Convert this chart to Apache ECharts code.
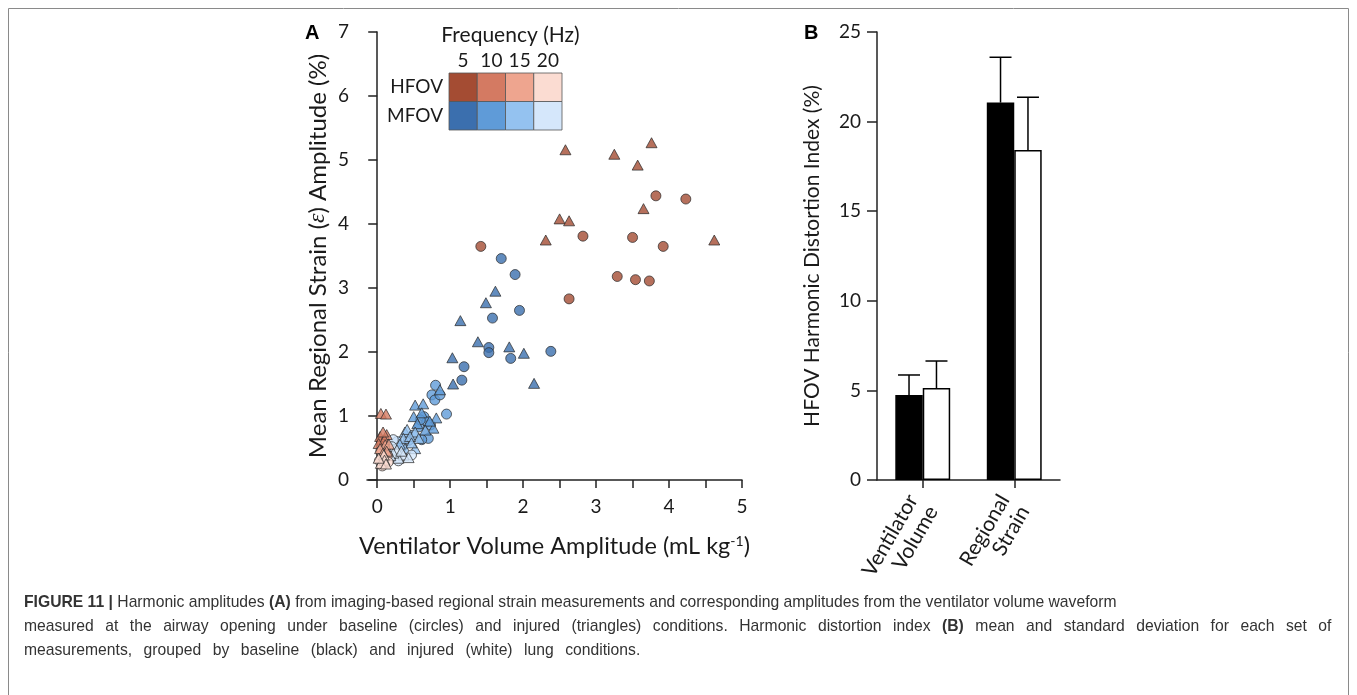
<!DOCTYPE html>
<html lang="en">
<head>
<meta charset="UTF-8">
<title>Figure 11 - Harmonic amplitudes</title>
<script src="https://cdn.jsdelivr.net/npm/echarts@6/dist/echarts.min.js"></script>
<style>
  html, body { margin: 0; padding: 0; background: #fff; }
  #chart { width: 1357px; height: 695px; }
</style>
</head>
<body>
<div id="chart"></div>
<script>
// Panel A points: [ventilator volume amplitude (mL/kg), mean regional strain amplitude (%)]
// circles = baseline, triangles = injured
const hfov5Circles = [[3.82,4.44],[4.23,4.39],[2.82,3.81],[3.50,3.79],[3.92,3.65],[1.42,3.65],[3.29,3.18],[3.54,3.13],[3.73,3.11],[2.63,2.83]];
const hfov5Triangles = [[2.58,5.16],[3.76,5.27],[3.25,5.09],[3.57,4.92],[3.65,4.24],[2.50,4.08],[2.63,4.05],[2.31,3.75],[4.62,3.75]];
const hfov10Circles = [[0.06,0.60],[0.10,0.52]];
const hfov10Triangles = [[0.05,1.04],[0.12,1.03],[0.04,0.68],[0.13,0.71],[0.10,0.63],[0.02,0.57],[0.08,0.75]];
const hfov15Circles = [[0.05,0.45],[0.14,0.38]];
const hfov15Triangles = [[0.11,0.55],[0.16,0.56],[0.04,0.49],[0.13,0.45],[0.08,0.42]];
const hfov20Circles = [[0.03,0.30],[0.07,0.22],[0.15,0.28]];
const hfov20Triangles = [[0.09,0.39],[0.10,0.31],[0.05,0.26],[0.12,0.25],[0.02,0.34]];

const mfov5Circles = [[1.70,3.46],[1.89,3.21],[1.95,2.65],[1.58,2.53],[1.53,2.07],[1.53,1.99],[1.83,1.90],[2.38,2.01],[1.19,1.77],[1.16,1.56]];
const mfov5Triangles = [[1.62,2.95],[1.49,2.77],[1.14,2.49],[1.38,2.16],[1.81,2.08],[2.01,1.98],[1.03,1.91],[1.04,1.50],[2.15,1.51]];
const mfov10Circles = [[0.80,1.48],[0.75,1.33],[0.79,1.25],[0.86,1.33],[0.64,0.99],[0.68,0.91],[0.95,1.03],[0.57,0.83],[0.73,0.86],[0.70,0.65],[0.61,0.63],[0.59,0.94]];
const mfov10Triangles = [[0.52,1.17],[0.63,1.19],[0.50,0.99],[0.81,0.97],[0.77,0.81],[0.86,1.41],[0.61,1.05],[0.72,0.92],[0.55,0.88],[0.66,0.78]];
const mfov15Circles = [[0.43,0.62],[0.49,0.70],[0.34,0.52],[0.27,0.60]];
const mfov15Triangles = [[0.38,0.75],[0.41,0.79],[0.52,0.75],[0.57,0.65],[0.36,0.65],[0.45,0.68],[0.52,0.49],[0.38,0.49],[0.47,0.58],[0.31,0.56]];
const mfov20Circles = [[0.47,0.39],[0.22,0.63],[0.29,0.30],[0.16,0.45],[0.12,0.36],[0.20,0.52]];
const mfov20Triangles = [[0.27,0.47],[0.36,0.39],[0.43,0.35],[0.29,0.34],[0.22,0.42],[0.33,0.45],[0.18,0.38]];

const xTicksA = [0, 0.5, 1, 1.5, 2, 2.5, 3, 3.5, 4, 4.5, 5];
const xLabelsA = [0, 1, 2, 3, 4, 5];

// frequency legend
const frequencies = ['5', '10', '15', '20'];
const modes = ['HFOV', 'MFOV'];
const hfovColors = ['#a44c33', '#d47a62', '#eea58f', '#fbdcd2'];
const mfovColors = ['#3b6fae', '#5f9bd8', '#94c2f0', '#d5e7fb'];

// Panel B: harmonic distortion index (%)
const categoriesB = ['Ventilator\nVolume', 'Regional\nStrain'];
const baselineMean = [4.74, 21.06];
const baselineSD = [1.12, 2.53];
const injuredMean = [5.13, 18.42];
const injuredSD = [1.51, 2.94];

const font = 'Lato, "Open Sans", sans-serif';
const ink = '#1a1a1a';
const captionFont = '"Liberation Sans", Arial, sans-serif';

const chart = echarts.init(document.getElementById('chart'));

const groups = [
  { c: mfov5Circles, t: mfov5Triangles, color: mfovColors[0] },
  { c: mfov10Circles, t: mfov10Triangles, color: mfovColors[1] },
  { c: mfov15Circles, t: mfov15Triangles, color: mfovColors[2] },
  { c: mfov20Circles, t: mfov20Triangles, color: mfovColors[3] },
  { c: hfov5Circles, t: hfov5Triangles, color: hfovColors[0] },
  { c: hfov10Circles, t: hfov10Triangles, color: hfovColors[1] },
  { c: hfov15Circles, t: hfov15Triangles, color: hfovColors[2] },
  { c: hfov20Circles, t: hfov20Triangles, color: hfovColors[3] }
];

const scatterSeries = [];
groups.forEach(g => {
  const style = { color: g.color, borderColor: '#2a2a2a', borderWidth: 0.9 };
  scatterSeries.push({
    type: 'scatter', xAxisIndex: 0, yAxisIndex: 0, data: g.c,
    symbol: 'circle', symbolSize: 10, itemStyle: style, silent: true
  });
  scatterSeries.push({
    type: 'scatter', xAxisIndex: 0, yAxisIndex: 0, data: g.t,
    symbol: 'triangle', symbolSize: [11, 10], itemStyle: style, silent: true
  });
});

// legend cells: [freq index, mode index]
const legendCells = [];
modes.forEach((m, j) => frequencies.forEach((f, i) => legendCells.push([i, j])));

const errorData = [];
baselineMean.forEach((m, i) => errorData.push([i, m, m + baselineSD[i], -1]));
injuredMean.forEach((m, i) => errorData.push([i, m, m + injuredSD[i], 1]));

// caption; the printed lines 2 and 3 are set with wide word spacing, so gaps are widened
const captionLine1 = '{b|FIGURE 11 |} Harmonic amplitudes {b|(A)} from imaging-based regional strain measurements and corresponding amplitudes from the ventilator volume waveform';
const captionLine2 = ['measured', 'at', 'the', 'airway', 'opening', 'under', 'baseline', '(circles)', 'and', 'injured',
  '(triangles)', 'conditions.', 'Harmonic', 'distortion', 'index', '{b|(B)}', 'mean', 'and', 'standard',
  'deviation', 'for', 'each', 'set', 'of'].join('{g| }');
const captionLine3 = ['measurements,', 'grouped', 'by', 'baseline', '(black)', 'and', 'injured', '(white)', 'lung',
  'conditions.'].join('{h| }');

const axisLine = { show: true, lineStyle: { color: '#222', width: 1.5 } };

const option = {
  backgroundColor: '#fff',
  animation: false,
  textStyle: { fontFamily: font },
  grid: [
    { left: 367, top: 32, width: 375, height: 448 },
    { left: 877, top: 32, width: 183, height: 448 },
    { left: 449, top: 73, width: 113, height: 57 }
  ],
  xAxis: [
    {
      gridIndex: 0, type: 'value', min: -0.14, max: 5,
      axisLine: axisLine,
      axisTick: { show: true, length: 8, lineStyle: { color: '#222', width: 1.5 }, customValues: xTicksA },
      axisLabel: { fontSize: 19, color: ink, margin: 17, customValues: xLabelsA },
      splitLine: { show: false },
      name: 'Ventilator Volume Amplitude (mL kg{sup|-1})',
      nameLocation: 'middle', nameGap: 54,
      nameTextStyle: {
        fontSize: 23.5, color: ink, fontFamily: font,
        rich: { sup: { fontSize: 14, color: ink, fontFamily: font, padding: [0, 0, 11, 0] } }
      }
    },
    {
      gridIndex: 1, type: 'category', data: categoriesB,
      axisLine: axisLine,
      axisTick: { show: true, alignWithLabel: true, length: 8, lineStyle: { color: '#222', width: 1.5 } },
      axisLabel: { fontSize: 21, color: ink, rotate: 60, margin: 22, lineHeight: 23, interval: 0 },
      splitLine: { show: false }
    },
    {
      gridIndex: 2, type: 'category', data: frequencies, position: 'top',
      axisLine: { show: false }, axisTick: { show: false },
      axisLabel: { fontSize: 19, color: ink, margin: 3, interval: 0 },
      name: 'Frequency (Hz)', nameLocation: 'middle', nameGap: 27,
      nameTextStyle: { fontSize: 21, color: ink, padding: [0, 0, 0, 10] }
    }
  ],
  yAxis: [
    {
      gridIndex: 0, type: 'value', min: 0, max: 7, interval: 1,
      axisLine: axisLine,
      axisTick: { show: true, length: 9, lineStyle: { color: '#222', width: 1.5 } },
      axisLabel: { fontSize: 19, color: ink, margin: 18 },
      splitLine: { show: false },
      name: 'Mean Regional Strain ({it|ε}) Amplitude (%)',
      nameLocation: 'middle', nameGap: 37,
      nameTextStyle: {
        fontSize: 24, color: ink, fontFamily: font,
        rich: { it: { fontSize: 24, color: ink, fontStyle: 'italic', fontFamily: 'serif' } }
      }
    },
    {
      gridIndex: 1, type: 'value', min: 0, max: 25, interval: 5,
      axisLine: axisLine,
      axisTick: { show: true, length: 10, lineStyle: { color: '#222', width: 1.5 } },
      axisLabel: { fontSize: 19, color: ink, margin: 16 },
      splitLine: { show: false },
      name: 'HFOV Harmonic Distortion Index (%)',
      nameLocation: 'middle', nameGap: 54,
      nameTextStyle: { fontSize: 21, color: ink }
    },
    {
      gridIndex: 2, type: 'category', data: modes, inverse: true,
      axisLine: { show: false }, axisTick: { show: false },
      axisLabel: { fontSize: 19, color: ink, margin: 6 }
    }
  ],
  series: scatterSeries.concat([
    {
      type: 'custom', xAxisIndex: 2, yAxisIndex: 2, data: legendCells, silent: true,
      renderItem: (params, api) => {
        const i = api.value(0), j = api.value(1);
        const c = api.coord([i, j]);
        const s = api.size([1, 1]);
        return {
          type: 'rect',
          shape: { x: c[0] - s[0] / 2, y: c[1] - s[1] / 2, width: s[0], height: s[1] },
          style: { fill: (j === 0 ? hfovColors : mfovColors)[i], stroke: '#555', lineWidth: 0.8 }
        };
      }
    },
    {
      name: 'Baseline', type: 'bar', xAxisIndex: 1, yAxisIndex: 1, data: baselineMean,
      barWidth: '30%', barGap: '0%',
      itemStyle: { color: '#000', borderColor: '#000', borderWidth: 1.5 }
    },
    {
      name: 'Injured', type: 'bar', xAxisIndex: 1, yAxisIndex: 1, data: injuredMean,
      barWidth: '30%', barGap: '0%',
      itemStyle: { color: '#fff', borderColor: '#000', borderWidth: 1.5 }
    },
    {
      type: 'custom', xAxisIndex: 1, yAxisIndex: 1, data: errorData, silent: true, z: 5,
      renderItem: (params, api) => {
        const band = api.size([1, 0])[0];
        const p0 = api.coord([api.value(0), api.value(1)]);
        const p1 = api.coord([api.value(0), api.value(2)]);
        const x = p0[0] + api.value(3) * band * 0.15;
        const st = { stroke: '#000', lineWidth: 1.5 };
        return {
          type: 'group',
          children: [
            { type: 'line', shape: { x1: x, y1: p0[1], x2: x, y2: p1[1] }, style: st },
            { type: 'line', shape: { x1: x - 11, y1: p1[1], x2: x + 11, y2: p1[1] }, style: st }
          ]
        };
      }
    }
  ]),
  graphic: [
    {
      type: 'rect', silent: true, z: -1,
      shape: { x: 8.5, y: 8.5, width: 1340, height: 700 },
      style: { fill: 'none', stroke: '#8a8a8a', lineWidth: 1 }
    },
    { type: 'text', left: 305, top: 23, style: { text: 'A', font: 'bold 20px Arial, "Liberation Sans", sans-serif', fill: '#000' } },
    { type: 'text', left: 804, top: 23, style: { text: 'B', font: 'bold 20px Arial, "Liberation Sans", sans-serif', fill: '#000' } },
    {
      type: 'text', left: 24, top: 591,
      style: {
        text: captionLine1 + '\n' + captionLine2 + '\n' + captionLine3,
        font: '15.7px ' + captionFont,
        fill: '#333',
        lineHeight: 24,
        rich: {
          b: { fontWeight: 'bold', fontSize: 15.7, fontFamily: captionFont, fill: '#333', lineHeight: 24 },
          g: { width: 11.5, fontSize: 15.7, fontFamily: captionFont, lineHeight: 24 },
          h: { width: 11.5, fontSize: 15.7, fontFamily: captionFont, lineHeight: 24 }
        }
      }
    }
  ]
};

chart.setOption(option);
</script>
</body>
</html>
